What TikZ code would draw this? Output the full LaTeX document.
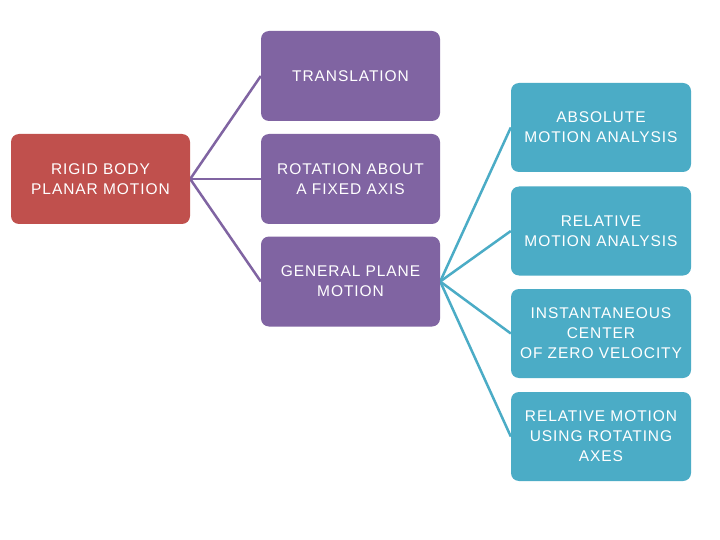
\documentclass[tikz,border=0pt]{standalone}
\usepackage{fontspec}
\setmainfont[LetterSpace=6]{Liberation Sans}
\usetikzlibrary{backgrounds}
\definecolor{cred}{HTML}{C0504D}
\definecolor{cpurple}{HTML}{8064A2}
\definecolor{cteal}{HTML}{4BACC6}
\tikzset{
  box/.style={rounded corners=8pt, minimum width=179pt, minimum height=90pt,
    text=white, align=center, inner sep=2pt,
    font=\fontsize{15.5}{20}\selectfont},
  redbox/.style={box, fill=cred},
  purplebox/.style={box, fill=cpurple},
  tealbox/.style={box, fill=cteal, minimum width=180pt, minimum height=89pt},
  pline/.style={draw=cpurple, line width=2.5pt},
  tline/.style={draw=cteal, line width=2.5pt}
}
\begin{document}
\begin{tikzpicture}[x=1pt,y=-1pt]
\useasboundingbox (0,0) rectangle (720,540);
\node[redbox] (rigid) at (100.5,179) {RIGID BODY\\PLANAR MOTION};
\node[purplebox] (trans) at (350.5,76) {TRANSLATION};
\node[purplebox] (rot) at (350.5,179) {ROTATION ABOUT\\A FIXED AXIS};
\node[purplebox] (gen) at (350.5,281.5) {GENERAL PLANE\\MOTION};
\node[tealbox] (abs) at (601,127.5) {ABSOLUTE\\MOTION ANALYSIS};
\node[tealbox] (rel) at (601,231) {RELATIVE\\MOTION ANALYSIS};
\node[tealbox] (ic) at (601,333.5) {INSTANTANEOUS\\CENTER\\OF ZERO VELOCITY};
\node[tealbox] (rot2) at (601,436.5) {RELATIVE MOTION\\USING ROTATING\\AXES};
\begin{scope}[on background layer]
\fill[white] (0,0) rectangle (720,540);
\draw[pline] (rigid.east) -- (trans.west);
\draw[pline] (rigid.east) -- (rot.west);
\draw[pline] (rigid.east) -- (gen.west);
\draw[tline] (gen.east) -- (abs.west);
\draw[tline] (gen.east) -- (rel.west);
\draw[tline] (gen.east) -- (ic.west);
\draw[tline] (gen.east) -- (rot2.west);
\end{scope}
\end{tikzpicture}
\end{document}
